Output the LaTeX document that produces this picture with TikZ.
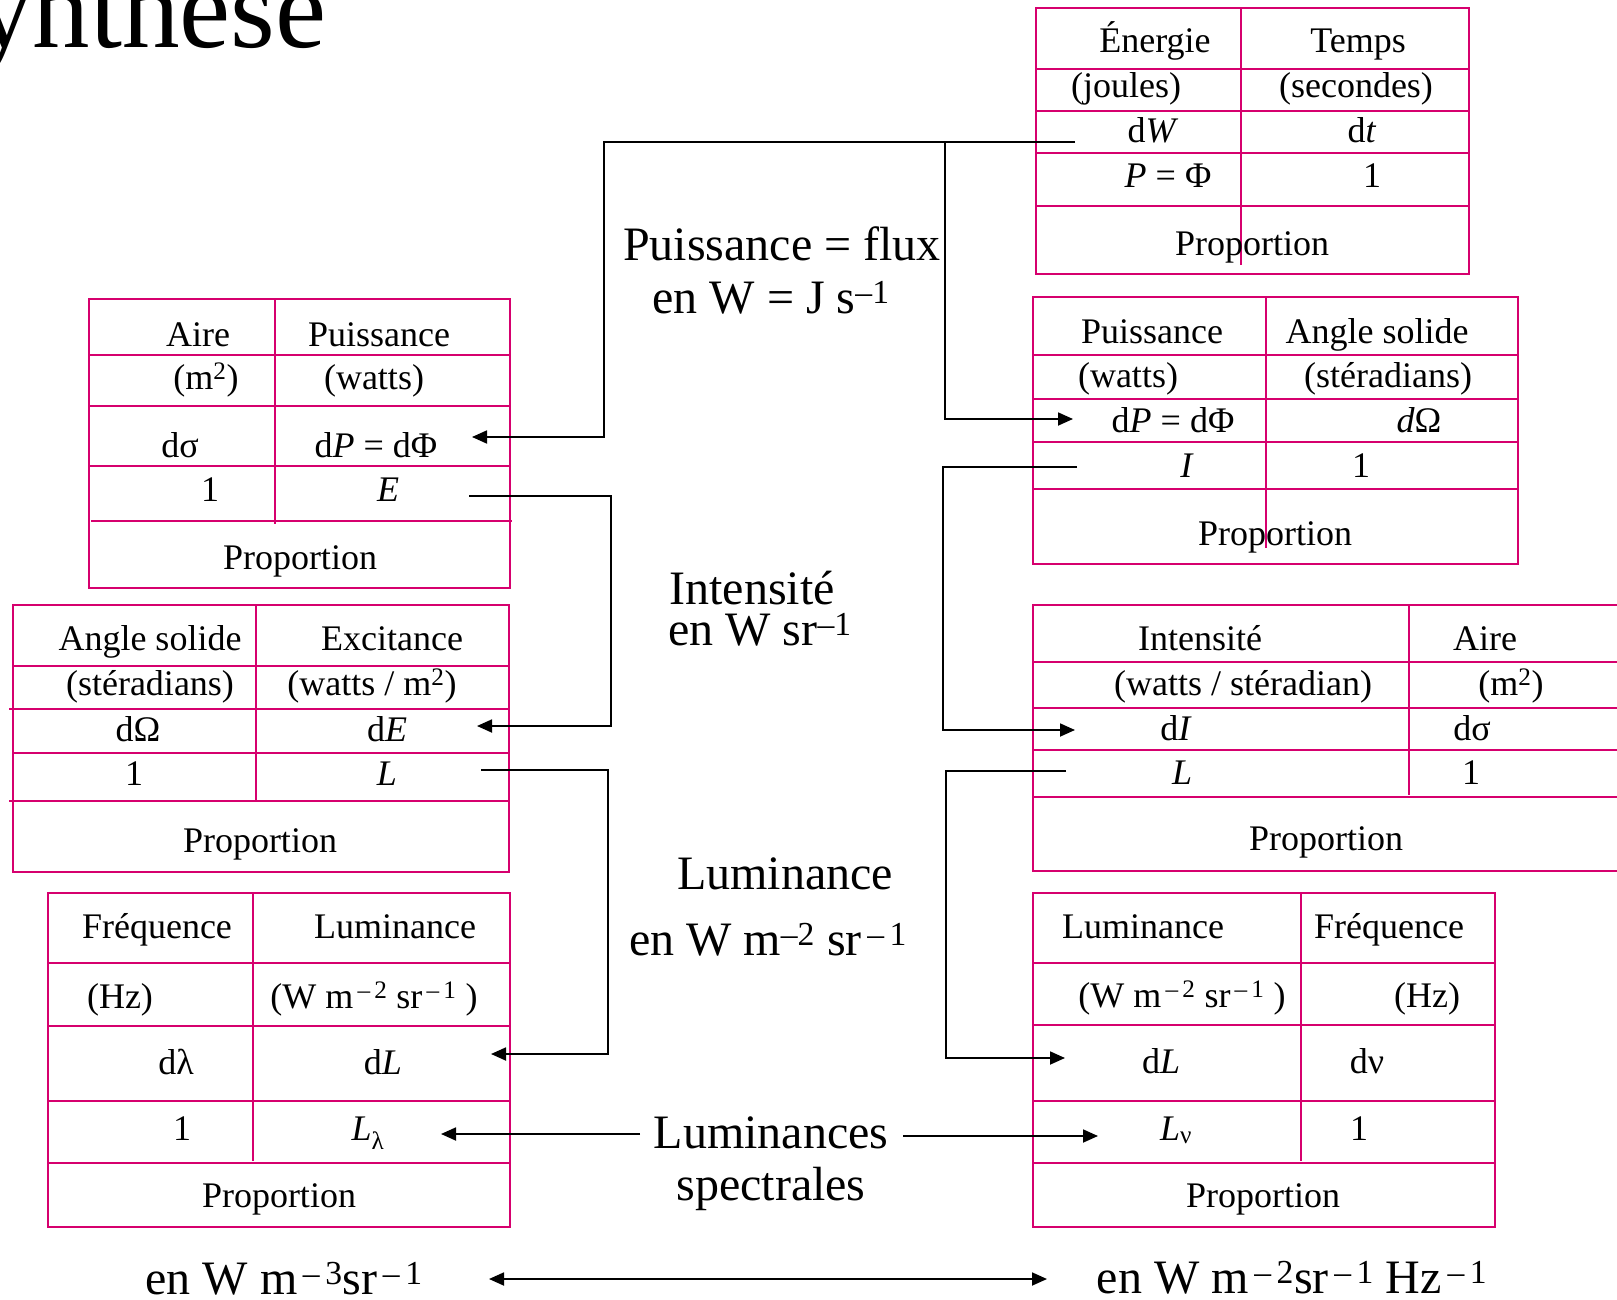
\documentclass[tikz,border=0pt]{standalone}
\usepackage{fontspec}
\setmainfont{Liberation Serif}
\usetikzlibrary{arrows.meta}
\definecolor{tabpink}{RGB}{214,0,110}
\begin{document}
\begin{tikzpicture}[x=1pt,y=-1pt,
  tb/.style={draw=tabpink, line width=2pt},
  tx/.style={anchor=base, inner sep=0pt, font=\fontsize{36}{40}\selectfont},
  big/.style={anchor=base, inner sep=0pt, font=\fontsize{48}{52}\selectfont},
  conn/.style={draw=black, line width=1.8pt},
  arr/.style={conn, -{Triangle[length=15pt,width=13pt]}},
  darr/.style={conn, {Triangle[length=15pt,width=13pt]}-{Triangle[length=15pt,width=13pt]}},
]
\useasboundingbox (0,0) rectangle (1617,1300);

% title (cut off at the top and left)
\node[anchor=base west, inner sep=0pt, font=\fontsize{115}{120}\selectfont] (title) at (-25,48) {ynthese};

% ---------- Table 1 : Energie / Temps
\draw[tb] (1036,8) rectangle (1469,274);
\foreach \y in {69,111,153,206} \draw[tb] (1036,\y) -- (1469,\y);
\draw[tb] (1241,8) -- (1241,265);
\node[tx] (t1a) at (1155,53) {Énergie};
\node[tx] (t1b) at (1358,53) {Temps};
\node[tx] (t1c) at (1126,98) {(joules)};
\node[tx] (t1d) at (1356,98) {(secondes)};
\node[tx] (t1e) at (1153,143) {d\textit{W}};
\node[tx] (t1f) at (1362,143) {d\textit{t}};
\node[tx] (t1g) at (1168,188) {\textit{P} = Φ};
\node[tx] (t1h) at (1372,188) {1};
\node[tx] (t1i) at (1252,255) {Proportion};

% ---------- Table 2 : Aire / Puissance
\draw[tb] (89,299) rectangle (510,588);
\foreach \y in {355,406,466} \draw[tb] (89,\y) -- (510,\y);
\draw[tb] (91,521) -- (512,521);
\draw[tb] (275,299) -- (275,524);
\node[tx] (t2a) at (198,346) {Aire};
\node[tx] (t2b) at (379,346) {Puissance};
\node[tx] (t2c) at (206,389) {(m\textsuperscript{2})};
\node[tx] (t2d) at (374,389) {(watts)};
\node[tx] (t2e) at (180,457) {dσ};
\node[tx] (t2f) at (376,457) {d\textit{P} = dΦ};
\node[tx] (t2g) at (210,501) {1};
\node[tx] (t2h) at (388,501) {\textit{E}};
\node[tx] (t2i) at (300,569) {Proportion};

% ---------- Table 3 : Puissance / Angle solide
\draw[tb] (1033,297) rectangle (1518,564);
\foreach \y in {355,399,442,489} \draw[tb] (1033,\y) -- (1518,\y);
\draw[tb] (1266,297) -- (1266,548);
\node[tx] (t3a) at (1152,343) {Puissance};
\node[tx] (t3b) at (1377,343) {Angle solide};
\node[tx] (t3c) at (1128,387) {(watts)};
\node[tx] (t3d) at (1388,387) {(stéradians)};
\node[tx] (t3e) at (1173,432) {d\textit{P} = dΦ};
\node[tx] (t3f) at (1419,432) {\textit{d}Ω};
\node[tx] (t3g) at (1187,477) {\textit{I}};
\node[tx] (t3h) at (1361,477) {1};
\node[tx] (t3i) at (1275,545) {Proportion};

% ---------- Table 5 : Angle solide / Excitance
\draw[tb] (13,605) rectangle (509,872);
\draw[tb] (13,666) -- (509,666);
\draw[tb] (9,709) -- (509,709);
\draw[tb] (13,753) -- (509,753);
\draw[tb] (9,801) -- (509,801);
\draw[tb] (256,605) -- (256,801);
\node[tx] (t5a) at (150,650) {Angle solide};
\node[tx] (t5b) at (392,650) {Excitance};
\node[tx] (t5c) at (150,695) {(stéradians)};
\node[tx] (t5d) at (372,695) {(watts / m\textsuperscript{2})};
\node[tx] (t5e) at (138,741) {dΩ};
\node[tx] (t5f) at (387,741) {d\textit{E}};
\node[tx] (t5g) at (134,785) {1};
\node[tx] (t5h) at (387,785) {\textit{L}};
\node[tx] (t5i) at (260,852) {Proportion};

% ---------- Table 6 : Intensite / Aire (runs off the right edge)
\draw[tb] (1617,605) -- (1033,605) -- (1033,871) -- (1617,871);
\foreach \y in {662,708,750,797} \draw[tb] (1033,\y) -- (1617,\y);
\draw[tb] (1409,605) -- (1409,795);
\node[tx] (t6a) at (1200,650) {Intensité};
\node[tx] (t6b) at (1485,650) {Aire};
\node[tx] (t6c) at (1243,695) {(watts / stéradian)};
\node[tx] (t6d) at (1511,695) {(m\textsuperscript{2})};
\node[tx] (t6e) at (1176,740) {d\textit{I}};
\node[tx] (t6f) at (1472,740) {dσ};
\node[tx] (t6g) at (1182,784) {\textit{L}};
\node[tx] (t6h) at (1471,784) {1};
\node[tx] (t6i) at (1326,850) {Proportion};

% ---------- Table 7 : Frequence / Luminance (left)
\draw[tb] (48,893) rectangle (510,1227);
\foreach \y in {963,1026,1101,1163} \draw[tb] (48,\y) -- (510,\y);
\draw[tb] (253,893) -- (253,1161);
\node[tx] (t7a) at (157,938) {Fréquence};
\node[tx] (t7b) at (395,938) {Luminance};
\node[tx] (t7c) at (120,1008) {(Hz)};
\node[tx] (t7d) at (374,1008) {(W m\textsuperscript{\,–\,2} sr\textsuperscript{\,–\,1} )};
\node[tx] (t7e) at (176,1074) {dλ};
\node[tx] (t7f) at (383,1074) {d\textit{L}};
\node[tx] (t7g) at (182,1140) {1};
\node[tx] (t7h) at (368,1140) {\textit{L}\textsubscript{λ}};
\node[tx] (t7i) at (279,1207) {Proportion};

% ---------- Table 8 : Luminance / Frequence (right)
\draw[tb] (1033,893) rectangle (1495,1227);
\foreach \y in {963,1025,1101,1163} \draw[tb] (1033,\y) -- (1495,\y);
\draw[tb] (1301,893) -- (1301,1161);
\node[tx] (t8a) at (1143,938) {Luminance};
\node[tx] (t8b) at (1389,938) {Fréquence};
\node[tx] (t8c) at (1182,1007) {(W m\textsuperscript{\,–\,2} sr\textsuperscript{\,–\,1} )};
\node[tx] (t8d) at (1427,1007) {(Hz)};
\node[tx] (t8e) at (1161,1073) {d\textit{L}};
\node[tx] (t8f) at (1367,1073) {dν};
\node[tx] (t8g) at (1176,1140) {\textit{L}\textsubscript{ν}};
\node[tx] (t8h) at (1359,1140) {1};
\node[tx] (t8i) at (1263,1207) {Proportion};

% ---------- middle labels
\node[big] (m1) at (782,261) {Puissance = flux};
\node[big] (m2) at (771,313) {en W = J s\textsuperscript{–1}};
\node[big] (m3) at (752,604) {Intensité};
\node[big] (m4) at (760,645) {en W sr\textsuperscript{–1}};
\node[big] (m5) at (785,889) {Luminance};
\node[big] (m6) at (768,955) {en W m\textsuperscript{–2} sr\textsuperscript{\,–\,1}};
\node[big] (m7) at (771,1148) {Luminances};
\node[big] (m8) at (771,1200) {spectrales};
\node[big] (b1) at (284,1294) {en W m\textsuperscript{\,–\,3}sr\textsuperscript{\,–\,1}};
\node[big] (b2) at (1292,1293) {en W m\textsuperscript{\,–\,2}sr\textsuperscript{\,–\,1} Hz\textsuperscript{\,–\,1}};

% ---------- connectors
\coordinate (a0) at (1075,142);
\coordinate (a1) at (472,437);
\coordinate (a2) at (1073,419);
\draw[arr] (a0) -- (604,142) |- (a1);
\draw[arr] (945,142) |- (a2);

\coordinate (b0) at (469,496);
\coordinate (b1e) at (477,726);
\draw[arr] (b0) -- (611,496) |- (b1e);

\coordinate (c0) at (1077,467);
\coordinate (c1) at (1075,730);
\draw[arr] (c0) -- (943,467) |- (c1);

\coordinate (d0) at (481,770);
\coordinate (d1) at (491,1054);
\draw[arr] (d0) -- (608,770) |- (d1);

\coordinate (e0) at (1066,771);
\coordinate (e1) at (1065,1058);
\draw[arr] (e0) -- (946,771) |- (e1);

\coordinate (f0) at (640,1134);
\coordinate (f1) at (441,1134);
\draw[arr] (f0) -- (f1);
\coordinate (g0) at (903,1136);
\coordinate (g1) at (1098,1136);
\draw[arr] (g0) -- (g1);

\coordinate (h0) at (489,1279);
\coordinate (h1) at (1047,1279);
\draw[darr] (h0) -- (h1);
\end{tikzpicture}
\end{document}
